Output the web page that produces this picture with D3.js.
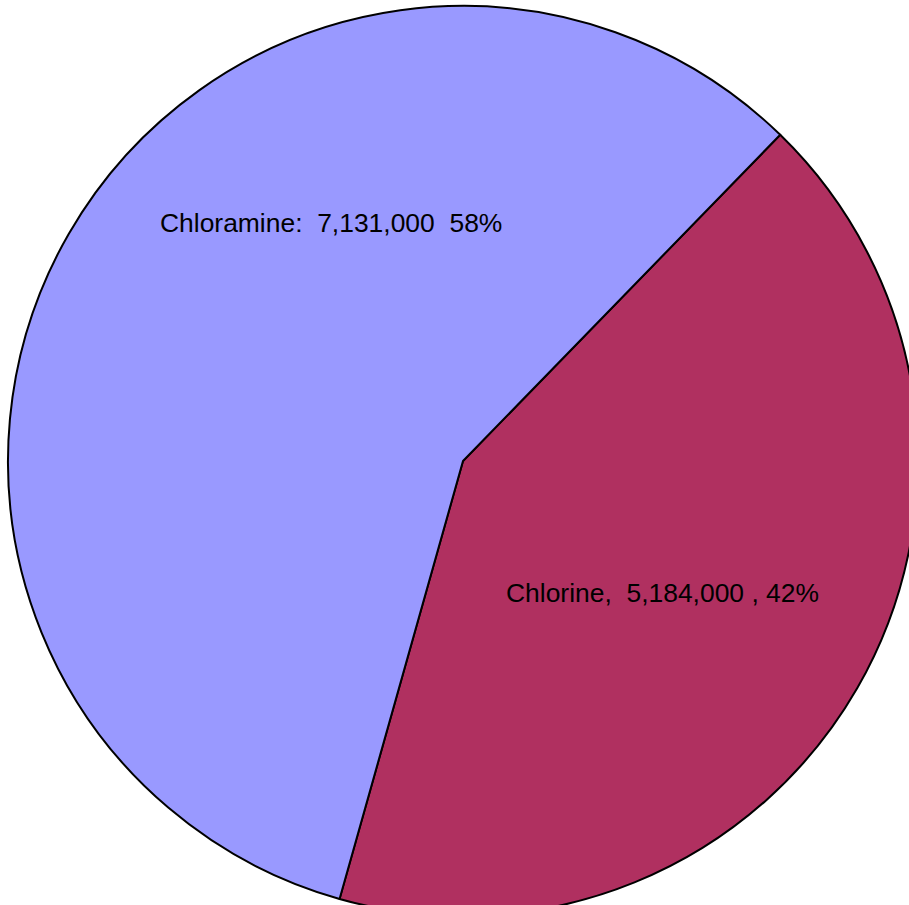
<!DOCTYPE html>
<html>
<head>
  <meta charset="utf-8" />
  <title>Chlorine vs Chloramine</title>
  <script src="https://d3js.org/d3.v7.min.js"></script>
  <style>
    body, html {
      margin: 0;
      background: white;
    }
    svg {
      display: block;
    }
  </style>
</head>
<body>
  <svg id="chart" width="909" height="905"></svg>
  <script>
    // data
    var categories = ["Chlorine", "Chloramine"];
    var values = [5184000, 7131000];
    var labels = ["Chlorine,  5,184,000 , 42%", "Chloramine:  7,131,000  58%"];
    var colors = ["#b03060", "#9999ff"];

    var svg = d3.select("#chart"),
        cx = 463,
        cy = 461,
        radius = 455;

    var g = svg.append("g").attr("transform", "translate(" + cx + "," + cy + ")");

    // chlorine slice starts a bit past 1:30 o'clock and goes clockwise
    var start = 44.2 * Math.PI / 180;
    var pie = d3.pie().sort(null).startAngle(start).endAngle(start + 2 * Math.PI);

    var arc = d3.arc().innerRadius(0).outerRadius(radius);

    var arcs = pie(values);

    g.selectAll("path.slice")
      .data(arcs)
      .enter()
      .append("path")
      .attr("class", "slice")
      .attr("fill", function(d, i) { return colors[i]; })
      .attr("stroke", "#000")
      .attr("stroke-width", 2)
      .attr("stroke-linejoin", "round")
      .attr("d", arc);

    // label anchors, relative to the pie centre (start of text, baseline)
    var labelX = [43, -303];
    var labelY = [141, -229];

    g.selectAll("text.lbl")
      .data(arcs)
      .enter()
      .append("text")
      .attr("class", "lbl")
      .attr("transform", function(d, i) { return "translate(" + labelX[i] + "," + labelY[i] + ") scale(1.025,1)"; })
      .attr("font-family", "'Liberation Sans', Arial, sans-serif")
      .attr("font-size", 25.8)
      .attr("fill", "#000")
      .style("white-space", "pre")
      .attr("xml:space", "preserve")
      .text(function(d, i) { return labels[i]; });
  </script>
</body>
</html>
